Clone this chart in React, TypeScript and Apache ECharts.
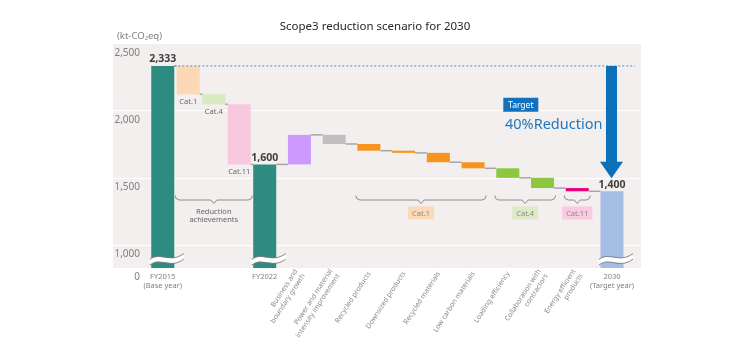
import React, { useEffect, useRef } from 'react';
import * as echarts from 'echarts';

// ---------- data ----------
const categories = [
  'FY2015\n(Base year)',
  'Cat.1',
  'Cat.4',
  'Cat.11',
  'FY2022',
  'Business and\nboundary growth',
  'Power and material\nintensity improvement',
  'Recycled products',
  'Downsized products',
  'Recycled materials',
  'Low carbon materials',
  'Loading efficiency',
  'Collaboration with\ncontractors',
  'Energy efficient\nproducts',
  '2030\n(Target year)',
];
// totals are absolute values; the rest are changes (kt-CO2eq)
const changes = [2333, -211, -74, -448, 1600, 220, -68, -50, -16, -70, -45, -71, -76, -24, 1400];
const totalFlags = [true, false, false, false, true, false, false, false, false, false, false, false, false, false, true];
const catLabelFlags = [false, true, true, true, false, false, false, false, false, false, false, false, false, false, false];
const yTickValues = [1000, 1500, 2000, 2500];
const yFloor = 829; // broken axis bottom, labelled "0"
const yTop = 2500;
const splitAt = 4; // first four bars use the narrower left band
const groups = [
  { label: 'Reduction\nachievements', from: 1, to: 3, bg: '' },
  { label: 'Cat.1', from: 7, to: 10, bg: '#fcd9b7' },
  { label: 'Cat.4', from: 11, to: 12, bg: '#dcebc6' },
  { label: 'Cat.11', from: 13, to: 13, bg: '#f8cbe1' },
];
const targetValue = 2333;
const arrowHeadValue = 1620;
const arrowTipValue = 1497;
const breakValue = 890;

// ---------- styles ----------
const colors = ['#2e8b80', '#fdd8b4', '#d8eabf', '#f7c8de', '#2e8b80', '#cc99ff', '#bfbfbf',
  '#f7941d', '#f7941d', '#f7941d', '#f7941d', '#8dc63f', '#8dc63f', '#e5007e', '#a4bde3'];
const FONT = 'Noto Sans';
const BAR_W = 23;

export default function App() {
  const ref = useRef<HTMLDivElement>(null);

  useEffect(() => {
    const chart = echarts.init(ref.current!, null, { renderer: 'svg' });

    // waterfall geometry from data
    const base: number[] = [];
    const vis: number[] = [];
    const level: number[] = [];
    let running = 0;
    changes.forEach((v, i) => {
      if (totalFlags[i]) {
        base.push(0);
        vis.push(v);
        running = v;
      } else if (v < 0) {
        running += v;
        base.push(running);
        vis.push(-v);
      } else {
        base.push(running);
        vis.push(v);
        running += v;
      }
      level.push(running);
    });

    const mkVisible = (i: number) => {
      let label: any = { show: false };
      if (totalFlags[i]) {
        label = {
          show: true, position: 'top', distance: 2, fontFamily: FONT,
          fontSize: 10.5, fontWeight: 'bold', color: '#404040',
          formatter: () => changes[i].toLocaleString('en-US'),
        };
      } else if (catLabelFlags[i]) {
        label = {
          show: true, position: 'bottom', distance: 3, fontFamily: FONT,
          fontSize: 7.5, color: '#666666', formatter: () => categories[i],
        };
      }
      return { value: vis[i], itemStyle: { color: colors[i] }, label };
    };

    const sections = [
      { from: 0, to: splitAt, ax: 1 },
      { from: splitAt, to: categories.length, ax: 2 },
    ];

    const series: any[] = [];
    sections.forEach((s, k) => {
      const idx = Array.from({ length: s.to - s.from }, (_, j) => s.from + j);
      series.push({
        type: 'bar', xAxisIndex: s.ax, yAxisIndex: s.ax, stack: 'wf' + k,
        barWidth: BAR_W, silent: true,
        itemStyle: { color: 'transparent' },
        data: idx.map((i) => base[i]),
      });
      series.push({
        type: 'bar', xAxisIndex: s.ax, yAxisIndex: s.ax, stack: 'wf' + k,
        barWidth: BAR_W,
        data: idx.map(mkVisible),
      });
      series.push({
        type: 'custom', xAxisIndex: s.ax, yAxisIndex: s.ax, coordinateSystem: 'cartesian2d',
        z: 3, silent: true,
        encode: { x: 0, y: 1 },
        data: idx.filter((i) => i < categories.length - 1).map((i) => [i - s.from, level[i]]),
        renderItem: (params: any, api: any) => {
          const x = api.value(0);
          const y = api.value(1);
          const p = api.coord([x, y]);
          const q = api.coord([x + 1, y]);
          return {
            type: 'line',
            shape: { x1: p[0] + BAR_W / 2, y1: p[1], x2: q[0] - BAR_W / 2, y2: p[1] },
            style: { stroke: '#a6a6a6', lineWidth: 1.5 },
          };
        },
      });
    });

    const gridTop = 43.5;
    const gridH = 224.5;
    const leftCats = categories.slice(0, splitAt);
    const rightCats = categories.slice(splitAt);
    const lastR = rightCats.length - 1;

    const hiddenY = (gi: number) => ({
      type: 'value', gridIndex: gi, min: yFloor, max: yTop, show: false,
      splitLine: { show: false },
    });

    const option: any = {
      animation: false,
      textStyle: { fontFamily: FONT },
      title: {
        text: 'Scope3 reduction scenario for 2030',
        left: 'center', top: 19, padding: 0,
        textStyle: { fontFamily: FONT, fontSize: 11.5, fontWeight: 'normal', color: '#262626' },
      },
      grid: [
        { left: 113, top: gridTop, width: 528, height: gridH, show: true, backgroundColor: '#f2efee', borderWidth: 0 },
        { left: 150, top: gridTop, width: 102, height: gridH },
        { left: 247.35, top: gridTop, width: 382, height: gridH },
      ],
      xAxis: [
        { type: 'category', gridIndex: 0, data: [''], show: false },
        {
          type: 'category', gridIndex: 1, data: leftCats, position: 'bottom',
          axisLine: { show: false }, axisTick: { show: false },
          axisLabel: {
            interval: 0, margin: 3, fontSize: 7.5, lineHeight: 9.5, color: '#7f7f7f', fontFamily: FONT,
            formatter: (v: string, i: number) => (i === 0 ? v : ''),
          },
        },
        {
          type: 'category', gridIndex: 2, data: rightCats, position: 'bottom',
          axisLine: { show: false }, axisTick: { show: false },
          axisLabel: {
            interval: 0, margin: 3, fontSize: 7.5, lineHeight: 9.5, color: '#7f7f7f', fontFamily: FONT,
            formatter: (v: string, i: number) => (i === 0 || i === lastR ? v : ''),
          },
        },
        {
          type: 'category', gridIndex: 2, data: rightCats, position: 'bottom',
          axisLine: { show: false }, axisTick: { show: false },
          axisLabel: {
            interval: 0, margin: 4, rotate: 57, fontSize: 7, lineHeight: 8.5, color: '#8a8a8a', fontFamily: FONT,
            formatter: (v: string, i: number) => (i > 0 && i < lastR ? v : ''),
          },
        },
      ],
      yAxis: [
        {
          type: 'value', gridIndex: 0, min: yFloor, max: yTop,
          axisLine: { show: false },
          axisTick: { show: false, customValues: yTickValues },
          splitLine: { show: true, lineStyle: { color: '#ffffff', width: 1 } },
          axisLabel: {
            customValues: [yFloor, ...yTickValues],
            margin: -27, verticalAlign: 'top', padding: [3, 0, 0, 0],
            fontSize: 10, color: '#7f7f7f', fontFamily: FONT,
            formatter: (v: number) => (v === yFloor ? '0' : v.toLocaleString('en-US')),
          },
        },
        hiddenY(1),
        hiddenY(2),
      ],
      series,
    };

    chart.setOption(option);

    // ---------- annotations positioned through the axes ----------
    const toPx = (i: number, v: number): number[] => {
      const left = i < splitAt;
      const ax = left ? 1 : 2;
      return chart.convertToPixel({ xAxisIndex: ax, yAxisIndex: ax } as any, [left ? i : i - splitAt, v]) as number[];
    };

    const g: any[] = [];
    const last = categories.length - 1;

    // dashed target line
    const yT = toPx(0, targetValue)[1];
    g.push({
      type: 'line', z: 50,
      shape: { x1: toPx(0, targetValue)[0] + BAR_W / 2, y1: yT, x2: toPx(last, targetValue)[0] + BAR_W, y2: yT },
      style: { stroke: '#4a90d0', lineWidth: 1, lineDash: [2, 2] },
    });

    // arrow
    const cx = toPx(last, targetValue)[0] - 0.5;
    const yHead = toPx(last, arrowHeadValue)[1];
    const yTip = toPx(last, arrowTipValue)[1];
    g.push({
      type: 'polygon', z: 60,
      shape: {
        points: [
          [cx - 5.5, yT], [cx + 5.5, yT], [cx + 5.5, yHead], [cx + 11.5, yHead],
          [cx, yTip], [cx - 11.5, yHead], [cx - 5.5, yHead],
        ],
      },
      style: { fill: '#0b6fba' },
    });

    // target box & text
    g.push({
      type: 'rect', z: 60, shape: { x: 503.3, y: 97.7, width: 35, height: 14 },
      style: { fill: '#1271bf' },
    });
    g.push({
      type: 'text', z: 61, x: 520.8, y: 104.7,
      style: { text: 'Target', fill: '#ffffff', font: `8.5px "${FONT}"`, align: 'center', verticalAlign: 'middle' },
    });
    g.push({
      type: 'text', z: 61, x: 505, y: 122.7,
      style: { text: '40%Reduction', fill: '#1f77c0', font: `14.5px "${FONT}"`, align: 'left', verticalAlign: 'middle' },
    });

    // unit label
    g.push({
      type: 'text', z: 61, x: 117, y: 35,
      style: { text: '(kt-CO₂eq)', fill: '#7f7f7f', font: `9.5px "${FONT}"`, align: 'left', verticalAlign: 'middle' },
    });

    // axis break marks on total bars
    totalFlags.forEach((t, i) => {
      if (!t) return;
      const p = toPx(i, breakValue);
      const xL = p[0] - 13;
      const xR = p[0] + 21;
      const w = xR - xL;
      const curve = (dy: number) => ({
        x1: xL, y1: p[1] + 2.5 + dy,
        cpx1: xL + w * 0.3, cpy1: p[1] - 6 + dy,
        cpx2: xL + w * 0.6, cpy2: p[1] + 7 + dy,
        x2: xR, y2: p[1] - 3.5 + dy,
      });
      g.push({ type: 'bezierCurve', z: 70, shape: curve(0), style: { stroke: '#ffffff', lineWidth: 5, fill: 'none' } });
      g.push({ type: 'bezierCurve', z: 71, shape: curve(-2.8), style: { stroke: '#7a7a7a', lineWidth: 0.9, fill: 'none' } });
      g.push({ type: 'bezierCurve', z: 71, shape: curve(2.8), style: { stroke: '#7a7a7a', lineWidth: 0.9, fill: 'none' } });
    });

    // group braces
    const y0 = 195.5;
    groups.forEach((gr) => {
      const x1 = toPx(gr.from, 0)[0] - BAR_W / 2 - 1.5;
      const x2 = toPx(gr.to, 0)[0] + BAR_W / 2 + 1.5;
      const xm = (x1 + x2) / 2;
      g.push({
        type: 'polyline', z: 50,
        shape: {
          points: [
            [x1, y0], [x1 + 0.8, y0 + 3], [x1 + 4, y0 + 4.5], [xm - 3, y0 + 4.5], [xm, y0 + 8],
            [xm + 3, y0 + 4.5], [x2 - 4, y0 + 4.5], [x2 - 0.8, y0 + 3], [x2, y0],
          ],
        },
        style: { stroke: '#8c8c8c', lineWidth: 1, fill: 'none' },
      });
      if (gr.bg) {
        g.push({
          type: 'text', z: 51, x: xm, y: 213,
          style: {
            text: gr.label, fill: '#8a8a8a', font: `7.5px "${FONT}"`, align: 'center', verticalAlign: 'middle',
            backgroundColor: gr.bg, padding: [3, 4, 2, 4],
          },
        });
      } else {
        g.push({
          type: 'text', z: 51, x: xm, y: 215,
          style: {
            text: gr.label, fill: '#666666', font: `7.5px "${FONT}"`, align: 'center', verticalAlign: 'middle',
            lineHeight: 8.5,
          },
        });
      }
    });

    chart.setOption({ graphic: g });

    return () => chart.dispose();
  }, []);

  return <div ref={ref} style={{ position: 'fixed', left: 0, top: 0, width: 750, height: 350 }} />;
}
